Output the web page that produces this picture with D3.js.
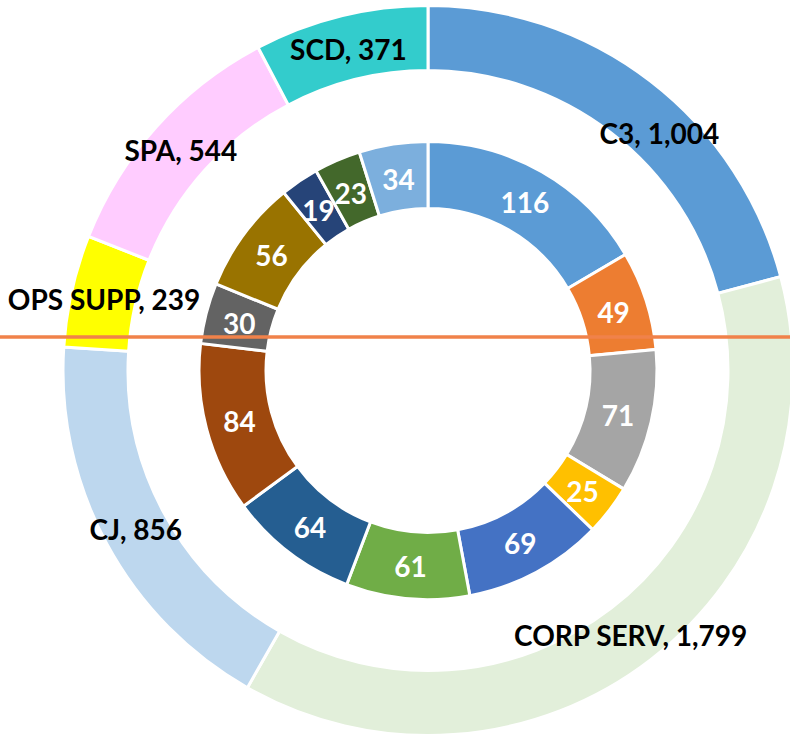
<!DOCTYPE html>
<html>
<head>
<meta charset="utf-8"/>
<title>Headcount rings</title>
<script src="https://cdn.jsdelivr.net/npm/d3@7/dist/d3.min.js"></script>
<style>
  html, body { margin: 0; padding: 0; background: #fff; }
  svg text { font-family: Lato, "Open Sans", sans-serif; font-weight: bold; }
</style>
</head>
<body>
<svg id="chart" width="790" height="740"></svg>
<script>
// outer ring - divisions
var outerNames  = ['C3', 'CORP SERV', 'CJ', 'OPS SUPP', 'SPA', 'SCD'];
var outerValues = [1004, 1799, 856, 239, 544, 371];
var outerColors = ['#5B9BD5', '#E2EFDA', '#BDD7EE', '#FFFF00', '#FFCCFF', '#33CCCC'];

// inner ring - sub units
var innerValues = [116, 49, 71, 25, 69, 61, 64, 84, 30, 56, 19, 23, 34];
var innerColors = ['#5B9BD5', '#ED7D31', '#A5A5A5', '#FFC000', '#4472C4', '#70AD47',
                   '#255E91', '#9E480E', '#636363', '#997300', '#264478', '#43682B', '#7CAFDD'];

// the reference line across the chart
var markerY = 337;

var svg = d3.select('#chart');
var cx = 428, cy = 370.5;

var g = svg.append('g').attr('transform', 'translate(' + cx + ',' + cy + ')');

var pie = d3.pie().sort(null).value(function(d) { return d; });

var outerArc = d3.arc().innerRadius(300).outerRadius(365);
var innerArc = d3.arc().innerRadius(162).outerRadius(229);
var outerLabelArc = d3.arc().innerRadius(332).outerRadius(332);
var innerLabelArc = d3.arc().innerRadius(195).outerRadius(195);

var fmt = d3.format(',');

var outerData = pie(outerValues);
var innerData = pie(innerValues);

g.selectAll('path.outer')
  .data(outerData)
  .enter().append('path')
  .attr('class', 'outer')
  .attr('d', outerArc)
  .attr('fill', function(d, i) { return outerColors[i]; })
  .attr('stroke', '#fff')
  .attr('stroke-width', 3);

g.selectAll('path.inner')
  .data(innerData)
  .enter().append('path')
  .attr('class', 'inner')
  .attr('d', innerArc)
  .attr('fill', function(d, i) { return innerColors[i]; })
  .attr('stroke', '#fff')
  .attr('stroke-width', 3);

// C3 label got pushed a bit clockwise in the original
var labelNudge = { 'C3': [29, 25] };

g.selectAll('text.outer')
  .data(outerData)
  .enter().append('text')
  .attr('class', 'outer')
  .attr('transform', function(d, i) {
      var c = outerLabelArc.centroid(d);
      var n = labelNudge[outerNames[i]] || [0, 0];
      return 'translate(' + (c[0] + n[0]) + ',' + (c[1] + n[1]) + ')';
  })
  .attr('text-anchor', 'middle')
  .attr('dy', '0.43em')
  .attr('font-size', 28)
  .attr('fill', '#000')
  .text(function(d, i) { return outerNames[i] + ', ' + fmt(d.data); });

g.selectAll('text.inner')
  .data(innerData)
  .enter().append('text')
  .attr('class', 'inner')
  .attr('transform', function(d) { return 'translate(' + innerLabelArc.centroid(d) + ')'; })
  .attr('text-anchor', 'middle')
  .attr('dy', '0.43em')
  .attr('font-size', 28)
  .attr('fill', '#fff')
  .text(function(d) { return fmt(d.data); });

svg.append('line')
  .attr('x1', 0).attr('x2', 790)
  .attr('y1', markerY).attr('y2', markerY)
  .attr('stroke', '#F0824A')
  .attr('stroke-width', 3.5);
</script>
</body>
</html>
